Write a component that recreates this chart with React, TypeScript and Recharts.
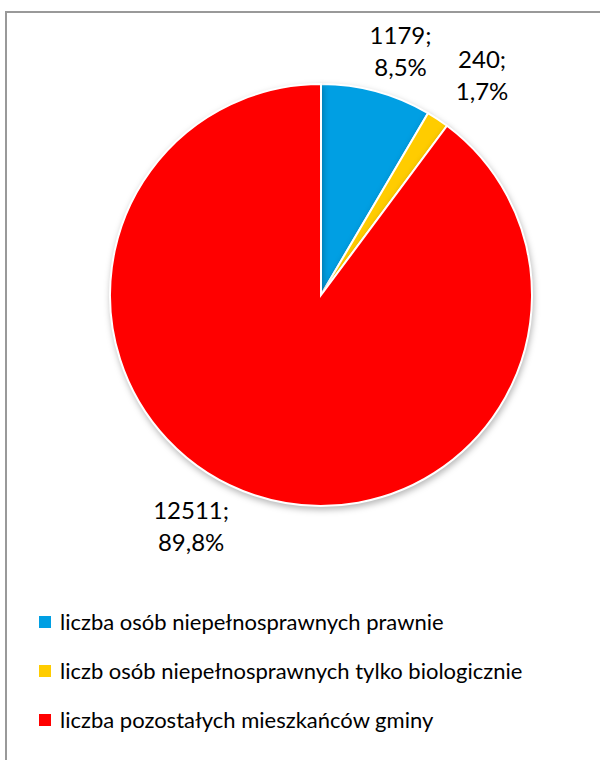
import React from "react";
import { PieChart, Pie, Cell, Legend } from "recharts";

const categories = [
  "liczba osób niepełnosprawnych prawnie",
  "liczb osób niepełnosprawnych tylko biologicznie",
  "liczba pozostałych mieszkańców gminy",
];
const values = [1179, 240, 12511];
const percentLabels = ["8,5%", "1,7%", "89,8%"];
const colors = ["#009FE3", "#FFCC00", "#FF0000"];

const data = categories.map((name, i) => ({ name, value: values[i], pct: percentLabels[i] }));

const FONT = "Lato, 'Open Sans', sans-serif";
const RAD = Math.PI / 180;
const labelNudgeX = [-8, 10, -31];
const labelNudgeY = [-3, -8, -5];

const renderLabel = (props: any) => {
  const { cx, cy, midAngle, outerRadius, index, payload } = props;
  const a = midAngle * RAD;
  const cosA = Math.cos(a);
  const sinA = Math.sin(a);
  const px = cx + (outerRadius + 8) * cosA;
  const py = cy - (outerRadius + 8) * sinA;
  const w = 60;
  const h = 58;
  const lx = px + Math.sign(cosA) * (w / 2) + labelNudgeX[index];
  const ly = py - Math.sign(sinA) * (h / 2) + labelNudgeY[index];
  return (
    <text x={lx} y={ly} textAnchor="middle" fill="#000" fontFamily={FONT} fontSize={24}>
      <tspan x={lx} y={ly - 8}>{`${payload.value};`}</tspan>
      <tspan x={lx} y={ly + 24}>{payload.pct}</tspan>
    </text>
  );
};

const renderLegend = () => (
  <div style={{ fontFamily: FONT, fontSize: 22, color: "#000" }}>
    {categories.map((name, i) => (
      <div key={name} style={{ display: "flex", alignItems: "center", height: 49, whiteSpace: "nowrap" }}>
        <span
          style={{
            display: "inline-block",
            width: 12,
            height: 12,
            background: colors[i],
            marginRight: 9,
          }}
        />
        <span>{name}</span>
      </div>
    ))}
  </div>
);

export default function App() {
  return (
    <div
      style={{
        position: "absolute",
        left: 0,
        top: 0,
        width: 600,
        height: 760,
        overflow: "hidden",
        background: "#fff",
      }}
    >
      <style>{`.recharts-pie-sector path { filter: drop-shadow(1px 3px 3px rgba(0,0,0,0.28)); }`}</style>
      <div
        style={{
          position: "absolute",
          left: 5,
          top: 11,
          width: 700,
          height: 900,
          border: "2px solid #999",
        }}
      />
      <div style={{ position: "absolute", left: 0, top: 0 }}>
        <PieChart width={600} height={760} margin={{ top: 0, right: 0, bottom: 0, left: 0 }}>
          <Pie
            data={data}
            dataKey="value"
            nameKey="name"
            cx={321}
            cy={295}
            outerRadius={211}
            startAngle={90}
            endAngle={-270}
            stroke="#fff"
            strokeWidth={2}
            label={renderLabel}
            labelLine={false}
            isAnimationActive={false}
          >
            {data.map((d, i) => (
              <Cell key={d.name} fill={colors[i]} />
            ))}
          </Pie>
          <Legend
            layout="horizontal"
            verticalAlign="bottom"
            align="left"
            content={renderLegend}
            wrapperStyle={{ position: "absolute", left: 39, top: 597, width: 560, bottom: "auto" }}
          />
        </PieChart>
      </div>
    </div>
  );
}
